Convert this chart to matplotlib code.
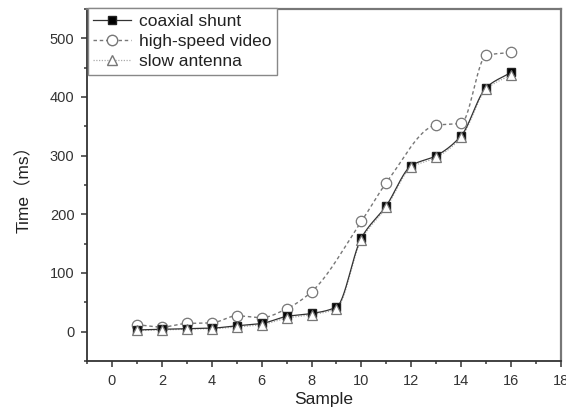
import numpy as np
import matplotlib
import matplotlib.pyplot as plt
from matplotlib.ticker import MultipleLocator

matplotlib.use('Agg')

# data
coax_x = [1, 2, 3, 4, 5, 6, 7, 8, 9, 10, 11, 12, 13, 14, 15, 16]
coax_y = [3, 4, 5, 6, 10, 14, 26, 31, 42, 160, 215, 283, 300, 334, 416, 442]
video_x = [1, 2, 3, 4, 5, 6, 7, 8, 10, 11, 13, 14, 15, 16]
video_y = [12, 8, 14, 15, 27, 24, 39, 68, 188, 254, 352, 355, 471, 476]
antenna_x = [1, 2, 3, 4, 5, 6, 7, 8, 9, 10, 11, 12, 13, 14, 15, 16]
antenna_y = [2, 3, 4, 5, 8, 12, 23, 29, 39, 157, 212, 280, 297, 331, 413, 438]


def smooth(x, y, n=400):
    # monotone cubic (Fritsch-Carlson) curve through the points, only for the connecting line
    x = np.asarray(x, float)
    y = np.asarray(y, float)
    h = np.diff(x)
    d = np.diff(y) / h
    m = np.zeros_like(y)
    m[0], m[-1] = d[0], d[-1]
    for i in range(1, len(x) - 1):
        if d[i - 1] * d[i] > 0:
            w1 = 2 * h[i] + h[i - 1]
            w2 = h[i] + 2 * h[i - 1]
            m[i] = (w1 + w2) / (w1 / d[i - 1] + w2 / d[i])
    xs = np.linspace(x[0], x[-1], n)
    j = np.clip(np.searchsorted(x, xs) - 1, 0, len(x) - 2)
    t = (xs - x[j]) / h[j]
    h00 = 2 * t ** 3 - 3 * t ** 2 + 1
    h10 = t ** 3 - 2 * t ** 2 + t
    h01 = -2 * t ** 3 + 3 * t ** 2
    h11 = t ** 3 - t ** 2
    ys = h00 * y[j] + h10 * h[j] * m[j] + h01 * y[j + 1] + h11 * h[j] * m[j + 1]
    return xs, ys


plt.rcParams['font.family'] = ['Liberation Sans', 'Noto Sans CJK SC', 'DejaVu Sans']

fig = plt.figure(figsize=(5.66, 4.16), dpi=100)
ax = fig.add_axes([0.1537, 0.1322, 0.8375, 0.8462])

sx, sy = smooth(coax_x, coax_y)
ax.plot(sx, sy, color='#333333', linewidth=0.9, zorder=3)
vx, vy = smooth(video_x, video_y)
ax.plot(vx, vy, color='#777777', linewidth=1.0, linestyle=(0, (2.5, 2)), zorder=2)
tx, ty = smooth(antenna_x, antenna_y)
ax.plot(tx, ty, color='#aaaaaa', linewidth=0.9, linestyle=(0, (1, 1.2)), zorder=2)

ax.plot(video_x, video_y, linestyle='none', marker='o', markersize=7.5,
        markerfacecolor='white', markeredgecolor='#777777', markeredgewidth=0.9, zorder=4)
ax.plot(coax_x, coax_y, linestyle='none', marker='s', markersize=6,
        markerfacecolor='black', markeredgecolor='#222222', zorder=5)
ax.plot(antenna_x, antenna_y, linestyle='none', marker='^', markersize=7,
        markerfacecolor='white', markeredgecolor='#777777', markeredgewidth=0.9, zorder=6)

# legend handles
h1, = ax.plot([], [], color='#333333', linewidth=0.9, marker='s', markersize=6,
              markerfacecolor='black', markeredgecolor='#222222')
h2, = ax.plot([], [], color='#777777', linewidth=1.0, linestyle=(0, (2.5, 2)), marker='o',
              markersize=7.5, markerfacecolor='white', markeredgecolor='#777777')
h3, = ax.plot([], [], color='#aaaaaa', linewidth=0.9, linestyle=(0, (1, 1.2)), marker='^',
              markersize=7, markerfacecolor='white', markeredgecolor='#777777')
leg = ax.legend([h1, h2, h3], ['coaxial shunt', 'high-speed video', 'slow antenna'],
                loc='upper left', bbox_to_anchor=(0.002, 1.002), fontsize=12.5,
                numpoints=1, handlelength=2.2, handletextpad=0.45, labelspacing=0.3,
                borderpad=0.3, borderaxespad=0, fancybox=False, framealpha=1)
leg.get_frame().set_edgecolor('#888888')
leg.get_frame().set_linewidth(1.0)
for t in leg.get_texts():
    t.set_color('#222222')

ax.set_xlim(-1, 18)
ax.set_ylim(-50, 550)
ax.xaxis.set_minor_locator(MultipleLocator(1))
ax.yaxis.set_minor_locator(MultipleLocator(50))
ax.set_xticks(range(0, 19, 2))
ax.set_yticks(range(0, 501, 100))

ax.tick_params(which='major', direction='out', length=4, width=1.1, color='#333333',
               labelsize=10.5, labelcolor='#333333', pad=5)
ax.tick_params(which='minor', direction='out', length=2.5, width=1.1, color='#333333')
ax.tick_params(axis='x', which='major', pad=5)

for s in ['left', 'bottom']:
    ax.spines[s].set_color('#333333')
    ax.spines[s].set_linewidth(1.3)
for s in ['top', 'right']:
    ax.spines[s].set_color('#777777')
    ax.spines[s].set_linewidth(1.6)

ax.set_xlabel('Sample', fontsize=12.5, color='#222222', labelpad=3)
ax.set_ylabel('Time（ms）', fontsize=12.5, color='#222222', labelpad=13)

fig.savefig('out.png', dpi=100)
